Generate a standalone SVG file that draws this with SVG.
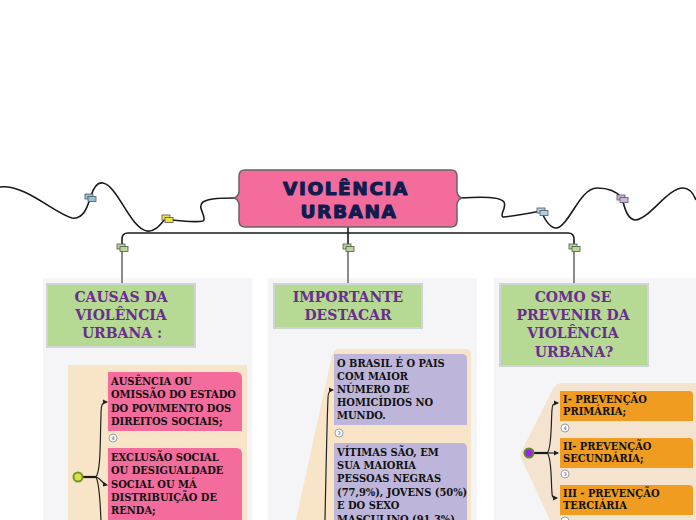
<svg xmlns="http://www.w3.org/2000/svg" width="696" height="520" viewBox="0 0 696 520">
<style>
.panel{fill:#f5f5f8}
.head{fill:#b6d993;stroke:#cfd4d6;stroke-width:2}
.ht{font-family:"DejaVu Serif",serif;font-weight:bold;font-size:14px;fill:#6a2d90;text-anchor:middle}
.bt{font-family:"DejaVu Serif",serif;font-weight:bold;font-size:11px;fill:#111;font-stretch:condensed}
.title{font-family:"DejaVu Sans",sans-serif;font-weight:900;font-size:18.5px;fill:#0f1c4d;stroke:#0f1c4d;stroke-width:1.1;stroke-linejoin:round;text-anchor:middle;letter-spacing:1.6px}
.wire{fill:none;stroke:#1a1a1a;stroke-width:1.6}
.drop{fill:none;stroke:#666;stroke-width:1.5}
.br{fill:none;stroke:#222;stroke-width:1.2}
.badge{fill:#fff;stroke:#888;stroke-width:0.8}
.bn{font-family:"DejaVu Sans",sans-serif;font-size:5px;fill:#555;text-anchor:middle}
.ic{stroke:#555;stroke-width:0.8}
</style>
<defs>
<marker id="ah" markerWidth="6" markerHeight="6" refX="4" refY="3" orient="auto" markerUnits="userSpaceOnUse"><path d="M0,0.5 L5,3 L0,5.5 Z" fill="#222"/></marker>
</defs>
<rect width="696" height="520" fill="#fff"/>

<!-- panels -->
<rect class="panel" x="43" y="278" width="209" height="242"/>
<rect class="panel" x="268" y="278" width="209" height="242"/>
<rect class="panel" x="494" y="278" width="202" height="242"/>

<!-- connectors -->
<g id="connectors">
<path class="wire" d="M0,187 C25,184 55,214 72,218 C84,220 88,205 91,196 C94,186 98,182 103,183 C118,186 130,228 147,231 C155,232 160,225 165,219 C180,221 195,223 203,221 C208,218 196,207 203,202 C210,198 222,198 235,198"/>
<path class="wire" d="M461,198 C475,197 500,196 504,202 C507,208 499,215 503,217 C515,216 530,213 541,211 C545,220 550,229 557,228 C570,224 580,188 597,188 C610,188 618,193 622,198 C625,210 628,220 636,220 C650,218 668,188 683,188 C690,188 694,195 696,200"/>
<path class="wire" d="M122,247 V239 Q122,233 128,233 H568 Q574,233 574,239 V247"/>
<path class="wire" d="M348,227 V247"/>
<path class="drop" d="M122,247 V283 M348,247 V283 M574,247 V283"/>
<g class="ic">
<rect x="85" y="194" width="8" height="5" fill="#8fc1df"/><rect x="88" y="196.5" width="8" height="5" fill="#8fc1df"/>
<rect x="162" y="215" width="8" height="5" fill="#f2e04a"/><rect x="165" y="217.5" width="8" height="5" fill="#f2e04a"/>
<rect x="117" y="244" width="8" height="5" fill="#b6d993"/><rect x="120" y="246.5" width="8" height="5" fill="#b6d993"/>
<rect x="343" y="244" width="8" height="5" fill="#b6d993"/><rect x="346" y="246.5" width="8" height="5" fill="#b6d993"/>
<rect x="569" y="244" width="8" height="5" fill="#b6d993"/><rect x="572" y="246.5" width="8" height="5" fill="#b6d993"/>
<rect x="537" y="208" width="8" height="5" fill="#a9d2ea"/><rect x="540" y="210.5" width="8" height="5" fill="#a9d2ea"/>
<rect x="617" y="195" width="8" height="5" fill="#c9b8dc"/><rect x="620" y="197.5" width="8" height="5" fill="#c9b8dc"/>
</g>
</g>

<!-- central -->
<g id="central">
<path d="M245,170 H451 Q457,170 457,176 V192 Q458,197 462,198 Q458,199 457,204 V221 Q457,227 451,227 H245 Q239,227 239,221 V204 Q238,199 234,198 Q238,197 239,192 V176 Q239,170 245,170 Z" fill="#f36c9c" stroke="#666" stroke-width="1.5"/>
<text class="title" x="346" y="195">VIOLÊNCIA</text>
<text class="title" x="349" y="218">URBANA</text>
</g>

<!-- heading nodes -->
<g id="causas">
<rect class="head" x="47" y="284" width="148" height="63"/>
<text class="ht" x="121" y="302">CAUSAS DA</text>
<text class="ht" x="121" y="320">VIOLÊNCIA</text>
<text class="ht" x="122" y="338">URBANA :</text>
</g>
<g id="importante">
<rect class="head" x="274" y="284" width="148" height="44"/>
<text class="ht" x="348" y="302">IMPORTANTE</text>
<text class="ht" x="348" y="320">DESTACAR</text>
</g>
<g id="prevenir">
<rect class="head" x="500" y="284" width="148" height="82"/>
<text class="ht" x="573" y="302">COMO SE</text>
<text class="ht" x="573" y="320">PREVENIR DA</text>
<text class="ht" x="573" y="338">VIOLÊNCIA</text>
<text class="ht" x="574" y="357">URBANA?</text>
</g>

<!-- left group -->
<g id="causas-group">
<rect x="68" y="365" width="179" height="155" fill="#f8e5c7"/>
<path d="M83,477 H96" stroke="#1a1a1a" stroke-width="2.2"/>
<path class="br" d="M96,477 C101,470 100,440 101,415 C101,405 102,402 107,402" marker-end="url(#ah)"/>
<path class="br" d="M96,477 C101,478 102,484 107,485" marker-end="url(#ah)"/>
<path class="br" d="M96,477 C100,485 100,505 101,520"/>
<circle cx="78" cy="477" r="4.5" fill="#e5df3d" stroke="#6a9a2e" stroke-width="2"/>
</g>
<g id="ausencia">
<path d="M108,372 H236 Q242,372 242,378 V431 H108 Z" fill="#f36c9c"/>
<text class="bt" x="111" y="385">AUSÊNCIA OU</text>
<text class="bt" x="111" y="398">OMISSÃO DO ESTADO</text>
<text class="bt" x="111" y="412">DO POVIMENTO DOS</text>
<text class="bt" x="111" y="425">DIREITOS SOCIAIS;</text>
<circle class="badge" cx="113" cy="438" r="4"/><text class="bn" x="113" y="440">4</text>
</g>
<g id="exclusao">
<path d="M108,448 H236 Q242,448 242,454 V520 H108 Z" fill="#f36c9c"/>
<text class="bt" x="111" y="461">EXCLUSÃO SOCIAL</text>
<text class="bt" x="111" y="474">OU DESIGUALDADE</text>
<text class="bt" x="111" y="488">SOCIAL OU MÁ</text>
<text class="bt" x="111" y="501">DISTRIBUIÇÃO DE</text>
<text class="bt" x="111" y="514">RENDA;</text>
</g>

<!-- middle group -->
<g id="importante-group">
<path d="M338,349 H466 Q471,349 471,354 V520 H296 L332,355 Q334,349 338,349 Z" fill="#f8e5c7"/>
<path class="br" d="M325,520 C326,470 327,420 328,398 C328,392 330,390 333,390" marker-end="url(#ah)"/>
</g>
<g id="brasil">
<path d="M334,354 H462 Q467,354 467,359 V425 H334 Z" fill="#bdb6da"/>
<text class="bt" x="337" y="367">O BRASIL É O PAIS</text>
<text class="bt" x="337" y="380">COM MAIOR</text>
<text class="bt" x="337" y="393">NÚMERO DE</text>
<text class="bt" x="337" y="406">HOMICÍDIOS NO</text>
<text class="bt" x="337" y="419">MUNDO.</text>
<circle class="badge" cx="339" cy="433" r="4"/><text class="bn" x="339" y="435">3</text>
</g>
<g id="vitimas">
<path d="M334,443 H462 Q467,443 467,448 V520 H334 Z" fill="#bdb6da"/>
<text class="bt" x="337" y="456">VÍTIMAS SÃO, EM</text>
<text class="bt" x="337" y="469">SUA MAIORIA</text>
<text class="bt" x="337" y="482">PESSOAS NEGRAS</text>
<text class="bt" x="337" y="496">(77,9%), JOVENS (50%)</text>
<text class="bt" x="337" y="509">E DO SEXO</text>
<text class="bt" x="337" y="523">MASCULINO (91,3%).</text>
</g>

<!-- right group -->
<g id="prevenir-group">
<path d="M562,383 H696 V520 H550 L522,460 Q519,455 522,450 L553,389 Q556,383 562,383 Z" fill="#f3e3cf"/>
<path d="M534,453 H547" stroke="#1a1a1a" stroke-width="2.2"/>
<path class="br" d="M547,453 C552,450 551,420 552,410 C552,405 553,403 558,403" marker-end="url(#ah)"/>
<path class="br" d="M547,453 H558" marker-end="url(#ah)"/>
<path class="br" d="M547,453 C552,456 551,485 552,493 C552,497 553,498 557,498" marker-end="url(#ah)"/>
<circle cx="529" cy="453" r="4.5" fill="#a01ef0" stroke="#5e8c2e" stroke-width="2"/>
</g>
<g id="primaria">
<path d="M560,391 H689 Q693,391 693,395 V421 H560 Z" fill="#f09c20"/>
<text class="bt" x="563" y="403">I- PREVENÇÃO</text>
<text class="bt" x="563" y="415">PRIMÁRIA;</text>
<circle class="badge" cx="565" cy="428" r="4"/><text class="bn" x="565" y="430">4</text>
</g>
<g id="secundaria">
<path d="M560,438 H689 Q693,438 693,442 V468 H560 Z" fill="#f09c20"/>
<text class="bt" x="563" y="450">II- PREVENÇÃO</text>
<text class="bt" x="563" y="462">SECUNDÁRIA;</text>
<circle class="badge" cx="565" cy="474" r="4"/><text class="bn" x="565" y="476">3</text>
</g>
<g id="terciaria">
<path d="M560,485 H689 Q693,485 693,489 V515 H560 Z" fill="#f09c20"/>
<text class="bt" x="563" y="497">III - PREVENÇÃO</text>
<text class="bt" x="563" y="509">TERCIÁRIA</text>
<circle class="badge" cx="565" cy="521" r="4"/>
</g>
</svg>
